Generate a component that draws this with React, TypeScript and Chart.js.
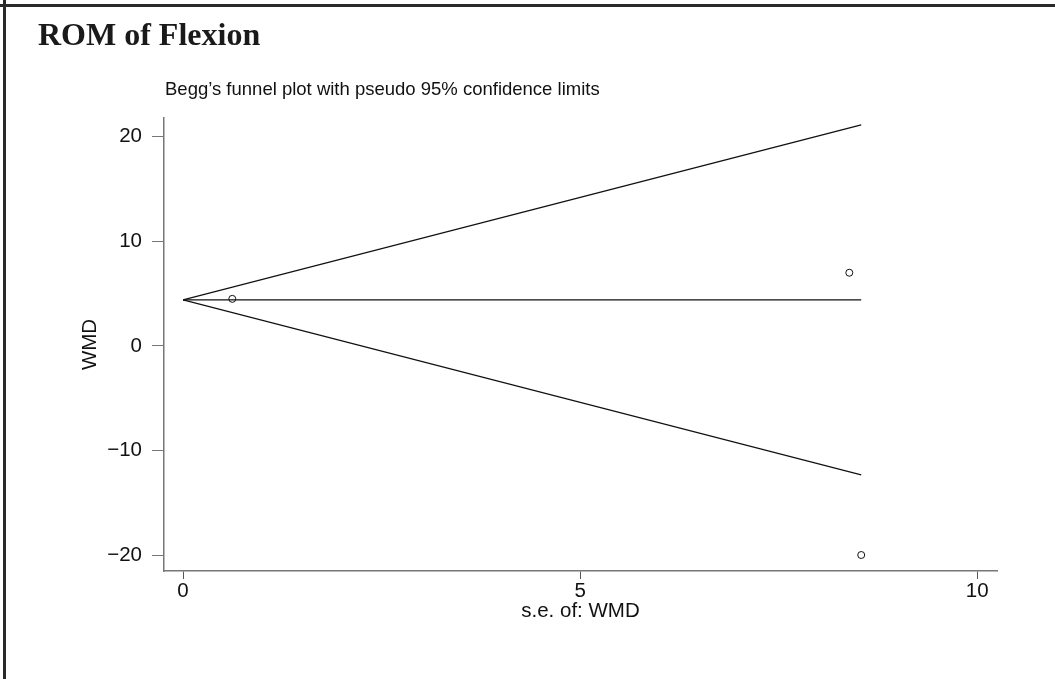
import React, { useEffect, useRef } from 'react';
import { Chart, registerables } from 'chart.js';

Chart.register(...registerables);

// ---- data ----
const studySE = [0.62, 8.39, 8.54];
const studyWMD = [4.5, 7.0, -20.0];
const limitSE = [0, 8.54];
const pooledWMD = [4.4, 4.4];
const upperLimit = [4.4, 21.14];
const lowerLimit = [4.4, -12.34];
const xTicks = [0, 5, 10];
const yTicks = [-20, -10, 0, 10, 20];
const chartTitle = 'ROM of Flexion';
const plotTitle = 'Begg’s funnel plot with pseudo 95% confidence limits';
const xTitle = 's.e. of: WMD';
const yTitle = 'WMD';

const SANS = '"Liberation Sans", Arial, Helvetica, sans-serif';
const SERIF = '"Liberation Serif", "Times New Roman", serif';
const AX = 20.5;

const toPoints = (xs: number[], ys: number[]) => xs.map((x, i) => ({ x, y: ys[i] }));

const textPlugin = {
  id: 'headerText',
  afterDraw(chart: any) {
    const ctx = chart.ctx;
    ctx.save();
    ctx.fillStyle = '#1a1a1a';
    ctx.textBaseline = 'alphabetic';
    ctx.textAlign = 'left';
    ctx.font = `bold 32px ${SERIF}`;
    ctx.fillText(chartTitle, 38, 45);
    ctx.fillStyle = '#111';
    ctx.font = `18.5px ${SANS}`;
    ctx.fillText(plotTitle, 165, 95);
    ctx.restore();
  },
};

const fmt = (v: any) => {
  const n = Number(v);
  return n < 0 ? '\u2212' + String(Math.abs(n)) : String(n);
};

export default function App() {
  const ref = useRef<HTMLCanvasElement>(null);

  useEffect(() => {
    if (!ref.current) return;
    const lineDs = (ys: number[]) => ({
      type: 'scatter' as const,
      data: toPoints(limitSE, ys),
      showLine: true,
      borderColor: '#111',
      borderWidth: 1.2,
      pointRadius: 0,
      pointHoverRadius: 0,
      fill: false,
    });
    const chart = new Chart(ref.current, {
      type: 'scatter',
      data: {
        datasets: [
          lineDs(upperLimit),
          lineDs(lowerLimit),
          lineDs(pooledWMD),
          {
            type: 'scatter',
            data: toPoints(studySE, studyWMD),
            showLine: false,
            pointStyle: 'circle',
            pointRadius: 3.5,
            borderWidth: 1,
            borderColor: '#111',
            backgroundColor: '#fff',
          },
        ],
      },
      options: {
        responsive: false,
        animation: false,
        devicePixelRatio: 1,
        layout: { padding: { top: 118, right: 58, bottom: 0, left: 0 } },
        plugins: { legend: { display: false }, tooltip: { enabled: false }, title: { display: false } },
        scales: {
          x: {
            type: 'linear',
            min: -0.24,
            max: 10.25,
            afterBuildTicks: (s: any) => { s.ticks = xTicks.map((v) => ({ value: v })); },
            afterFit: (s: any) => { s.height = 108; },
            grid: { display: true, drawOnChartArea: false, drawTicks: true, tickLength: 8, color: '#555', lineWidth: 1 },
            border: { display: true, color: '#777', width: 1.5 },
            ticks: { color: '#111', font: { family: SANS, size: AX }, padding: 0, maxRotation: 0, autoSkip: false, callback: fmt },
            title: { display: true, text: xTitle, color: '#111', font: { family: SANS, size: AX }, padding: { top: 0, bottom: 55 } },
          },
          y: {
            type: 'linear',
            min: -21.53,
            max: 21.8,
            afterBuildTicks: (s: any) => { s.ticks = yTicks.map((v) => ({ value: v })); },
            afterFit: (s: any) => { s.width = 164; },
            grid: { display: true, drawOnChartArea: false, drawTicks: true, tickLength: 12, color: '#777', lineWidth: 1 },
            border: { display: true, color: '#777', width: 1.5 },
            ticks: { color: '#111', font: { family: SANS, size: AX }, padding: 10, autoSkip: false, callback: fmt },
            title: { display: true, text: yTitle, color: '#111', font: { family: SANS, size: AX }, padding: { top: 78, bottom: 0 } },
          },
        },
      },
      plugins: [textPlugin],
    } as any);
    return () => chart.destroy();
  }, []);

  return (
    <div style={{ position: 'fixed', left: 0, top: 0, width: 1055, height: 679, background: '#fff', overflow: 'hidden' }}>
      <canvas ref={ref} width={1055} height={679} style={{ position: 'absolute', left: 0, top: 0, width: 1055, height: 679 }} />
      <div style={{ position: 'absolute', left: 0, top: 4, width: 1055, height: 3, background: '#2a2a2a' }} />
      <div style={{ position: 'absolute', left: 3, top: 0, width: 3, height: 679, background: '#2a2a2a' }} />
    </div>
  );
}
